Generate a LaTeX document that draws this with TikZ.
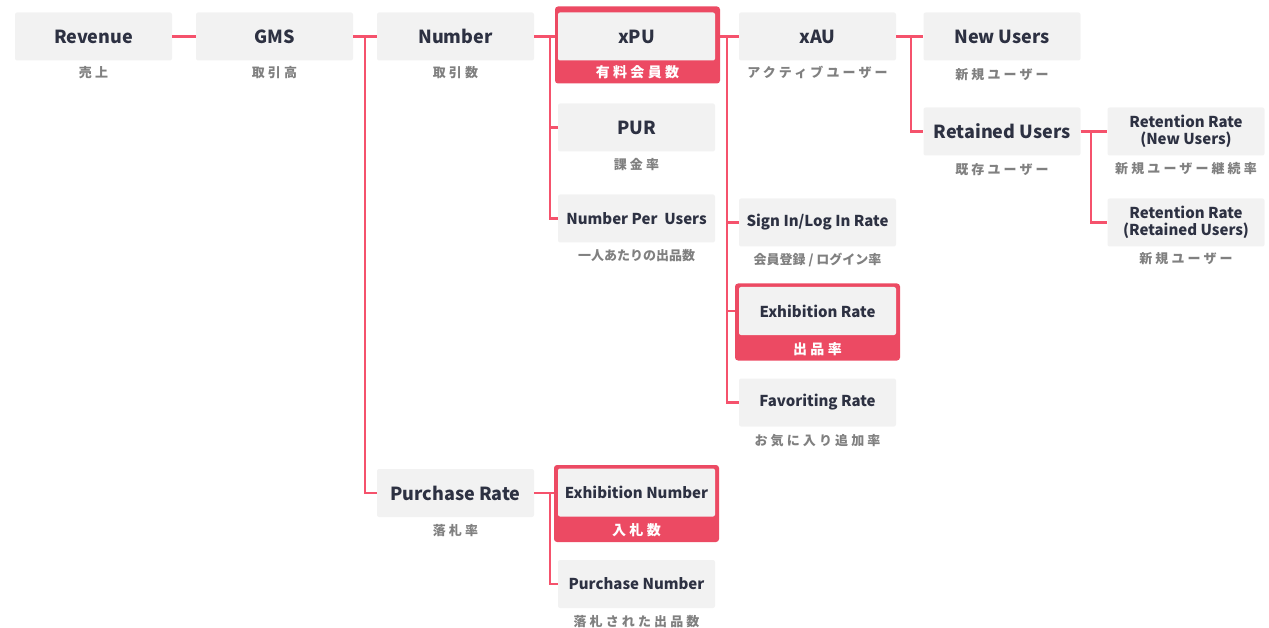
\documentclass[tikz,border=0pt]{standalone}
\usepackage{fontspec}
\setmainfont{Noto Sans CJK JP}
\newfontfamily\jpsp{Noto Sans CJK JP}[LetterSpace=24]
\definecolor{boxgray}{RGB}{242,242,242}
\definecolor{hlred}{RGB}{236,74,99}
\definecolor{connred}{RGB}{245,82,108}
\definecolor{txtdark}{RGB}{45,49,66}
\definecolor{subgray}{RGB}{128,128,128}
\tikzset{
  box/.style={draw=none, fill=boxgray, rounded corners=2pt, minimum width=157pt, minimum height=48pt, inner sep=0pt, align=center, text=txtdark, font=\bfseries\fontsize{18}{20}\selectfont},
  sbox/.style={box, font=\bfseries\fontsize{15}{17}\selectfont},
  frame/.style={draw=none, fill=hlred, rounded corners=3pt, minimum width=165pt, minimum height=77pt, inner sep=0pt},
  sub/.style={text=subgray, font=\jpsp\bfseries\fontsize{13}{14}\selectfont, inner sep=0pt},
  subtight/.style={text=subgray, font=\bfseries\fontsize{13}{14}\selectfont, inner sep=0pt},
  hsub/.style={text=white, font=\jpsp\bfseries\fontsize{14}{15}\selectfont, inner sep=0pt},
  conn/.style={draw=connred, line width=2.8pt}
}
\begin{document}
\begin{tikzpicture}[x=1pt,y=-1pt]
\useasboundingbox (0,0) rectangle (1269,628);
% highlighted frames
\node[frame] (xpuF) at (637.5,45) {};
\node[frame] (erF) at (817.5,322) {};
\node[frame] (enF) at (636.5,503.5) {};
% boxes
\node[box] (rev) at (93.5,36.5) {Revenue};
\node[box] (gms) at (274.5,36.5) {GMS};
\node[box] (num) at (455.5,36.5) {Number};
\node[box] (xpu) at (636.5,36.5) {xPU};
\node[box] (pur) at (636.5,127.5) {PUR};
\node[sbox] (npu) at (636.5,218.5) {Number Per\ \ Users};
\node[box] (xau) at (817.5,36.5) {xAU};
\node[box] (newu) at (1002,36.5) {New Users};
\node[box] (retu) at (1002,131.5) {Retained Users};
\node[sbox] (rrn) at (1186,131.5) {Retention Rate\\(New Users)};
\node[sbox] (rrr) at (1186,222.5) {Retention Rate\\(Retained Users)};
\node[sbox] (sign) at (817.5,222.5) {Sign In/Log In Rate};
\node[sbox] (exr) at (817.5,311) {Exhibition Rate};
\node[sbox] (fav) at (817.5,402.5) {Favoriting Rate};
\node[box] (prate) at (455.5,493) {Purchase Rate};
\node[sbox] (exn) at (636.5,492.5) {Exhibition Number};
\node[sbox] (pnum) at (636.5,584) {Purchase Number};
% subtitles
\node[sub] (revS) at (93.5,72.5) {売上};
\node[sub] (gmsS) at (274.5,72.5) {取引高};
\node[sub] (numS) at (455.5,72.5) {取引数};
\node[hsub] (xpuS) at (637.5,72) {有料会員数};
\node[sub] (purS) at (636.5,164.5) {課金率};
\node[subtight] (npuS) at (636.5,256) {一人あたりの出品数};
\node[sub] (xauS) at (817.5,72.5) {アクティブユーザー};
\node[sub] (newuS) at (1002,74.5) {新規ユーザー};
\node[sub] (retuS) at (1002,169.5) {既存ユーザー};
\node[sub] (rrnS) at (1186,168.5) {新規ユーザー継続率};
\node[sub] (rrrS) at (1186,258.5) {新規ユーザー};
\node[subtight] (signS) at (817.5,259.5) {会員登録 / ログイン率};
\node[hsub] (exrS) at (817.5,349) {出品率};
\node[sub] (favS) at (817.5,440.5) {お気に入り追加率};
\node[sub] (prateS) at (455.5,530.5) {落札率};
\node[hsub] (exnS) at (636.5,530) {入札数};
\node[sub] (pnumS) at (636.5,621.5) {落札された出品数};
% junction coordinates
\coordinate (j1) at (365,36.5);
\coordinate (j2) at (550,36.5);
\coordinate (j3) at (727,36.5);
\coordinate (j4) at (911,36.5);
\coordinate (j5) at (1091,131.5);
\coordinate (j6) at (550,493);
% connectors
\draw[conn] (rev.east) -- (gms.west);
\draw[conn] (gms.east) -- (num.west);
\draw[conn] (j1) |- (prate.west);
\draw[conn] (num.east) -- (xpuF.west |- num.east);
\draw[conn] (j2) |- (pur.west);
\draw[conn] (j2) |- (npu.west);
\draw[conn] (xpuF.east |- xpu.east) -- (xau.west);
\draw[conn] (j3) |- (sign.west);
\draw[conn] (j3) |- (erF.west |- exr.west);
\draw[conn] (j3) |- (fav.west);
\draw[conn] (xau.east) -- (newu.west);
\draw[conn] (j4) |- (retu.west);
\draw[conn] (retu.east) -- (rrn.west);
\draw[conn] (j5) |- (rrr.west);
\draw[conn] (prate.east) -- (enF.west |- prate.east);
\draw[conn] (j6) |- (pnum.west);
\end{tikzpicture}
\end{document}
